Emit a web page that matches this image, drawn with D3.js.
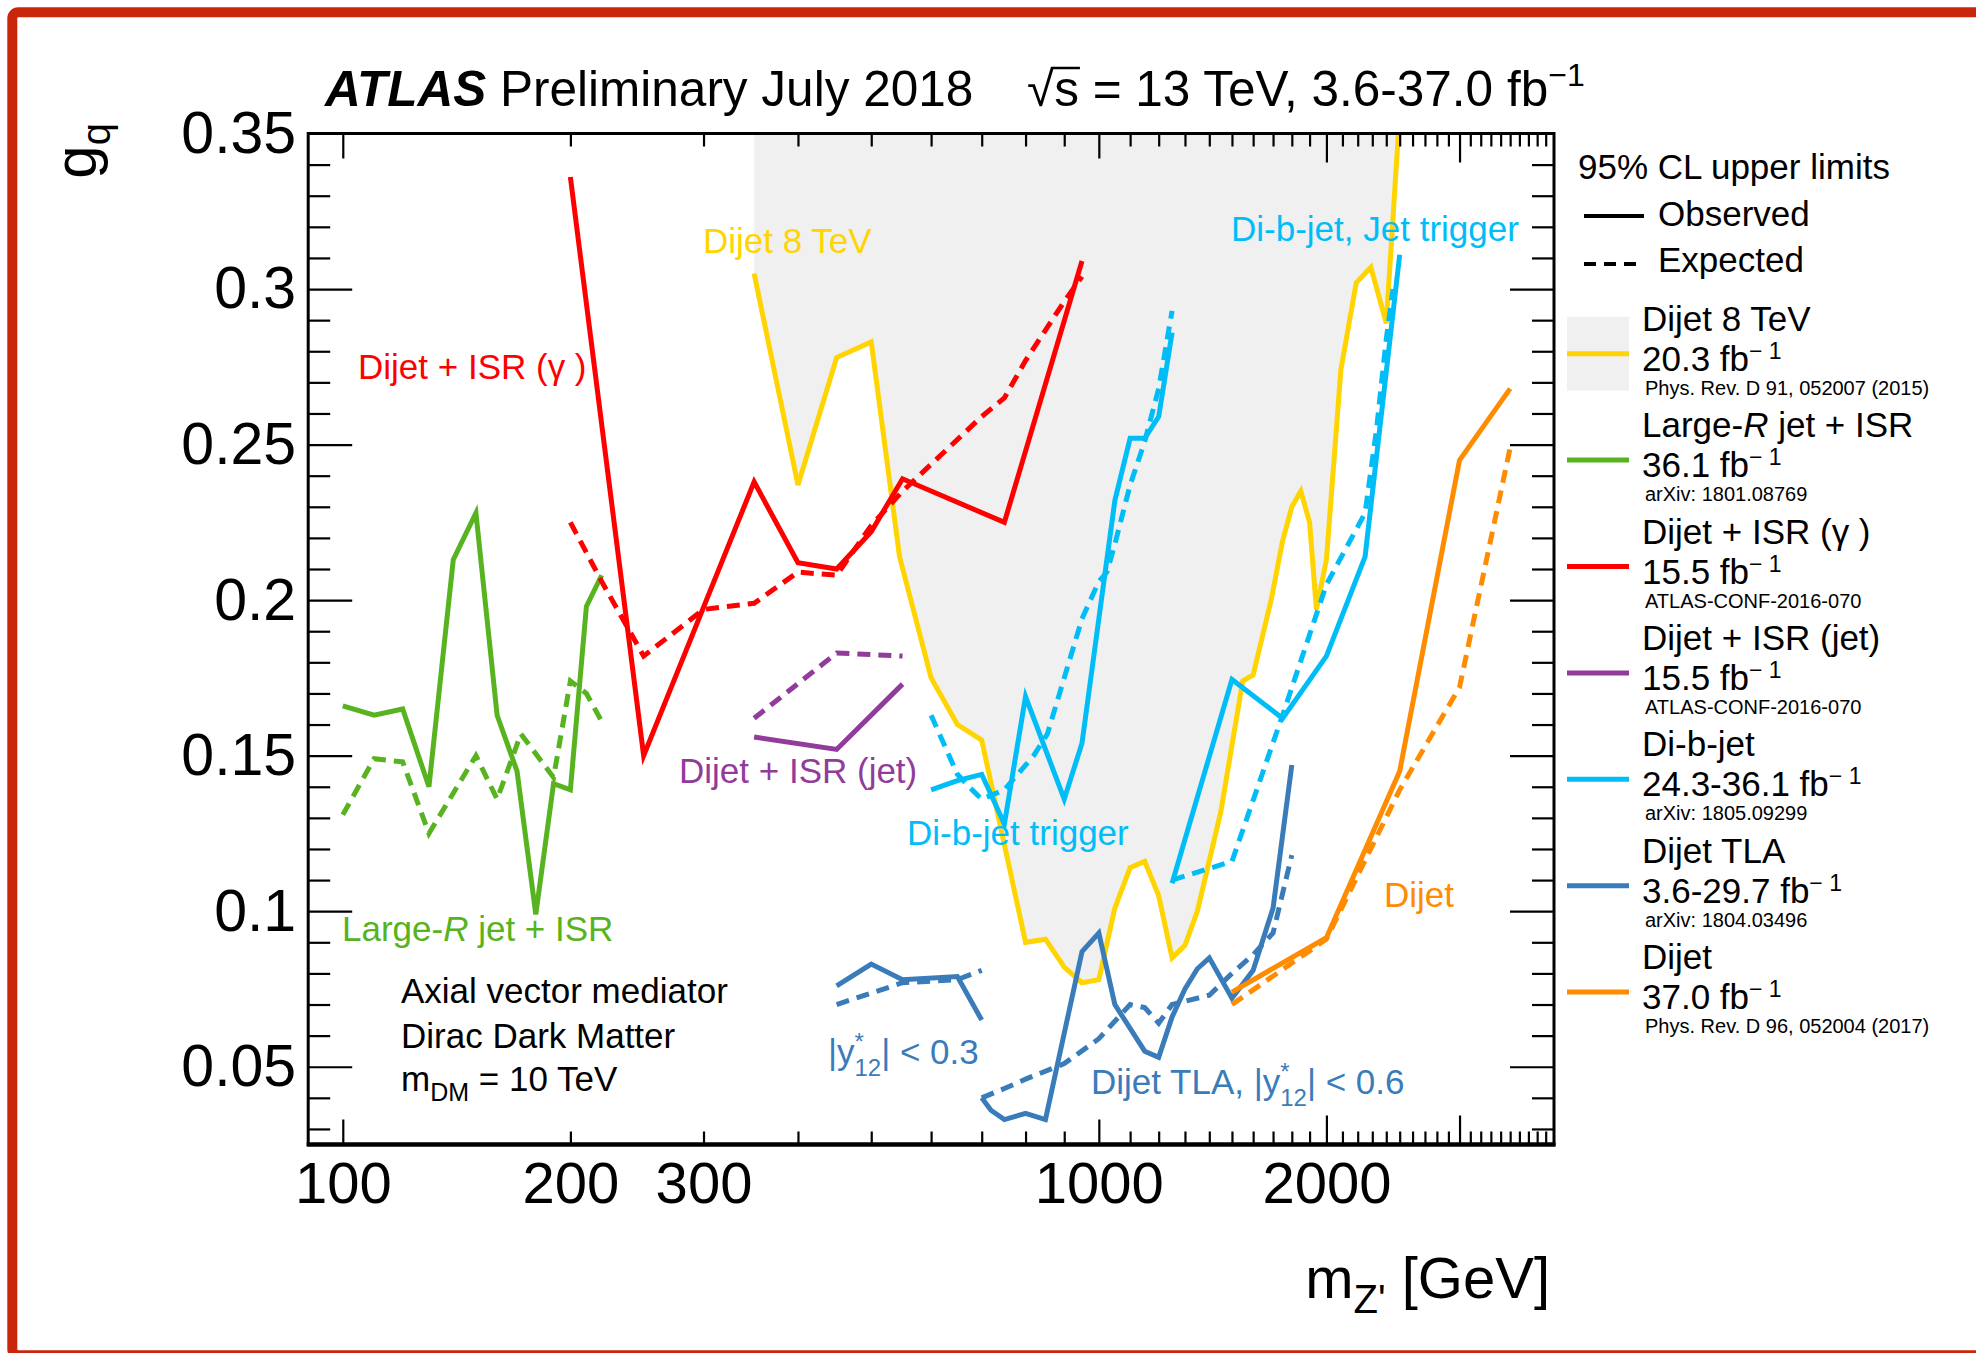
<!DOCTYPE html>
<html>
<head>
<meta charset="utf-8">
<script src="https://cdn.jsdelivr.net/npm/d3@7"></script>
<style>
  html, body { margin: 0; padding: 0; background: #fff; }
  svg { display: block; font-family: "Liberation Sans", Arial, Helvetica, sans-serif; }
  text { white-space: pre; }
</style>
</head>
<body>
<svg id="chart" width="1976" height="1353"></svg>
<script>
// ---------------- Limits on g_q vs m_Z' (axial-vector mediator) ----------------

// Dijet 8 TeV (observed only; the excluded region above it is shaded)
const dijet8Mass = [350, 400, 450, 500, 545, 600, 650, 700, 800, 850, 900, 950, 1000, 1050, 1100, 1150, 1200, 1250, 1300, 1350, 1450, 1550, 1600, 1690, 1750, 1800, 1850, 1900, 1940, 2000, 2090, 2190, 2290, 2400, 2490];
const dijet8Obs  = [0.305, 0.237, 0.278, 0.283, 0.214, 0.175, 0.160, 0.155, 0.090, 0.091, 0.082, 0.077, 0.078, 0.101, 0.114, 0.116, 0.105, 0.085, 0.089, 0.100, 0.132, 0.174, 0.176, 0.200, 0.219, 0.230, 0.235, 0.225, 0.197, 0.213, 0.274, 0.302, 0.307, 0.289, 0.350];

// Large-R jet + ISR
const largeRMass   = [100, 110, 120, 130, 140, 150, 160, 170, 180, 190, 200, 210, 220];
const largeRObs    = [0.166, 0.163, 0.165, 0.140, 0.213, 0.228, 0.163, 0.145, 0.099, 0.141, 0.139, 0.198, 0.208];
const largeRExpMass = [100, 110, 120, 130, 150, 160, 172, 190, 200, 210, 220];
const largeRExp    = [0.131, 0.149, 0.148, 0.125, 0.150, 0.136, 0.157, 0.143, 0.174, 0.170, 0.161];

// Dijet + ISR (photon)
const isrGammaMass    = [200, 250, 350, 400, 450, 500, 550, 750, 950];
const isrGammaObs     = [0.336, 0.150, 0.238, 0.212, 0.210, 0.222, 0.239, 0.225, 0.309];
const isrGammaExpMass = [200, 220, 250, 300, 350, 400, 450, 500, 550, 700, 750, 800, 900, 950];
const isrGammaExp     = [0.225, 0.206, 0.182, 0.197, 0.199, 0.209, 0.208, 0.224, 0.235, 0.259, 0.265, 0.277, 0.296, 0.304];

// Dijet + ISR (jet)
const isrJetMass = [350, 450, 550];
const isrJetObs  = [0.156, 0.152, 0.173];
const isrJetExp  = [0.162, 0.183, 0.182];

// Di-b-jet, b-jet trigger
const dibjetLowMass    = [600, 650, 700, 750, 800, 900, 950, 1050, 1100, 1150, 1200, 1250];
const dibjetLowObs     = [0.139, 0.142, 0.144, 0.128, 0.169, 0.136, 0.154, 0.232, 0.252, 0.252, 0.259, 0.286];
const dibjetLowExpMass = [600, 650, 680, 700, 750, 820, 855, 900, 950, 1000, 1025, 1050, 1100, 1150, 1200, 1250];
const dibjetLowExp     = [0.163, 0.144, 0.139, 0.136, 0.139, 0.150, 0.157, 0.175, 0.194, 0.206, 0.209, 0.218, 0.237, 0.251, 0.268, 0.293];

// Di-b-jet, jet trigger
const dibjetHighMass    = [1250, 1500, 1750, 2000, 2250, 2500];
const dibjetHighObs     = [0.109, 0.1745, 0.162, 0.182, 0.214, 0.311];
const dibjetHighExpMass = [1250, 1500, 1750, 2000, 2250, 2330, 2400, 2450];
const dibjetHighExp     = [0.110, 0.116, 0.163, 0.205, 0.228, 0.255, 0.284, 0.300];

// Dijet TLA, |y*12| < 0.3
const tlaLowMass    = [450, 500, 550, 650, 700];
const tlaLowObs     = [0.076, 0.083, 0.078, 0.079, 0.065];
const tlaLowExpMass = [450, 550, 650, 700];
const tlaLowExp     = [0.070, 0.077, 0.078, 0.081];

// Dijet TLA, |y*12| < 0.6
const tlaHighMass    = [700, 720, 750, 800, 850, 950, 1000, 1050, 1150, 1200, 1250, 1300, 1350, 1400, 1500, 1600, 1700, 1800];
const tlaHighObs     = [0.040, 0.036, 0.033, 0.035, 0.033, 0.087, 0.093, 0.070, 0.055, 0.053, 0.066, 0.075, 0.0815, 0.085, 0.072, 0.081, 0.101, 0.147];
const tlaHighExpMass = [700, 750, 800, 900, 1000, 1100, 1150, 1200, 1250, 1400, 1500, 1600, 1700, 1800];
const tlaHighExp     = [0.040, 0.043, 0.046, 0.051, 0.059, 0.070, 0.069, 0.064, 0.070, 0.073, 0.080, 0.086, 0.093, 0.118];

// Dijet 37.0 fb-1
const dijetMass = [1500, 2000, 2500, 3000, 3500];
const dijetObs  = [0.074, 0.0915, 0.145, 0.245, 0.268];
const dijetExp  = [0.070, 0.091, 0.139, 0.172, 0.249];

// Axis tick labels
const xTickLabels = [100, 200, 300, 1000, 2000];
const yTickLabels = [0.05, 0.1, 0.15, 0.2, 0.25, 0.3, 0.35];

// ---------------- styles ----------------
const C = {
  gold: '#ffd400', green: '#57b320', red: '#ff0000', purple: '#913c9b',
  sky: '#00bdf7', steel: '#3a7cba', orange: '#ff8c00', shade: '#f0f0f0'
};
const FONT_LABEL = 35;
const LINE_W = 5;
const DASH = '13,8';

const plot = { left: 308.2, right: 1554, top: 133.5, bottom: 1144.5 };
const x = d3.scaleLog().domain([90, 4000]).range([plot.left, plot.right]);
const y = d3.scaleLinear().domain([0.025, 0.35]).range([plot.bottom, plot.top]);

const svg = d3.select('#chart');

// page border
svg.append('rect')
  .attr('x', 12.3).attr('y', 12.3).attr('width', 2100).attr('height', 1343)
  .attr('rx', 6).attr('fill', 'none').attr('stroke', '#c9260c').attr('stroke-width', 10);

svg.append('clipPath').attr('id', 'plotClip').append('rect')
  .attr('x', plot.left).attr('y', plot.top)
  .attr('width', plot.right - plot.left).attr('height', plot.bottom - plot.top);

// text helper: parts are strings or {t, size, dx, dy, italic, bold}
function addText(parent, px, py, parts, opt = {}) {
  const size = opt.size || FONT_LABEL;
  const t = parent.append('text')
    .attr('transform', `translate(${px},${py})` + (opt.rotate ? ` rotate(${opt.rotate})` : ''))
    .attr('font-size', size)
    .attr('fill', opt.color || '#000')
    .attr('text-anchor', opt.anchor || 'start');
  parts.forEach(p => {
    if (typeof p === 'string') p = { t: p };
    const s = t.append('tspan').text(p.t);
    if (p.size) s.attr('font-size', p.size);
    if (p.dx) s.attr('dx', p.dx);
    if (p.dy) s.attr('dy', p.dy);
    if (p.italic) s.attr('font-style', 'italic');
    if (p.bold) s.attr('font-weight', 'bold');
  });
  return t;
}

// ---------------- shaded Dijet 8 TeV exclusion ----------------
const plotG = svg.append('g').attr('clip-path', 'url(#plotClip)');
plotG.append('path')
  .datum(d3.zip(dijet8Mass, dijet8Obs))
  .attr('fill', C.shade)
  .attr('d', d3.area().x(d => x(d[0])).y0(y(0.35)).y1(d => y(d[1])));

// ---------------- in-plot labels ----------------
const labels = svg.append('g');
addText(labels, 703, 253, ['Dijet 8 TeV'], { color: C.gold });
addText(labels, 358, 379, ['Dijet + ISR (\u03b3 )'], { color: C.red });
addText(labels, 342, 941, ['Large-', { t: 'R', italic: true }, ' jet + ISR'], { color: C.green });
addText(labels, 679, 783, ['Dijet + ISR (jet)'], { color: C.purple });
addText(labels, 907, 845, ['Di-b-jet trigger'], { color: C.sky });
addText(labels, 1231, 241, ['Di-b-jet, Jet trigger'], { color: C.sky });
addText(labels, 1384, 907, ['Dijet'], { color: C.orange });
const ystar = (cut) => ['|y', { t: '*', size: 24, dy: -14 }, { t: '12', size: 24, dx: -9.5, dy: 26 }, { t: '| < ' + cut, dy: -12 }];
addText(labels, 828, 1064, ystar('0.3'), { color: C.steel });
addText(labels, 1091, 1094, ['Dijet TLA, '].concat(ystar('0.6')), { color: C.steel });
addText(labels, 401, 1003, ['Axial vector mediator']);
addText(labels, 401, 1048, ['Dirac Dark Matter']);
addText(labels, 401, 1091, ['m', { t: 'DM', size: 25, dy: 10 }, { t: ' = 10 TeV', dy: -10 }]);

// ---------------- limit curves ----------------
const line = d3.line().x(d => x(d[0])).y(d => y(d[1]));
function curve(mass, g, color, dashed) {
  plotG.append('path')
    .datum(d3.zip(mass, g))
    .attr('d', line)
    .attr('fill', 'none')
    .attr('stroke', color)
    .attr('stroke-width', LINE_W)
    .attr('stroke-linejoin', 'miter')
    .attr('stroke-dasharray', dashed ? DASH : null);
}
curve(dijet8Mass, dijet8Obs, C.gold, false);
curve(largeRExpMass, largeRExp, C.green, true);
curve(largeRMass, largeRObs, C.green, false);
curve(isrGammaExpMass, isrGammaExp, C.red, true);
curve(isrGammaMass, isrGammaObs, C.red, false);
curve(isrJetMass, isrJetExp, C.purple, true);
curve(isrJetMass, isrJetObs, C.purple, false);
curve(dibjetLowExpMass, dibjetLowExp, C.sky, true);
curve(dibjetLowMass, dibjetLowObs, C.sky, false);
curve(dibjetHighExpMass, dibjetHighExp, C.sky, true);
curve(dibjetHighMass, dibjetHighObs, C.sky, false);
curve(tlaLowExpMass, tlaLowExp, C.steel, true);
curve(tlaLowMass, tlaLowObs, C.steel, false);
curve(tlaHighExpMass, tlaHighExp, C.steel, true);
curve(tlaHighMass, tlaHighObs, C.steel, false);
curve(dijetMass, dijetExp, C.orange, true);
curve(dijetMass, dijetObs, C.orange, false);

// ---------------- axes, ticks and frame ----------------
const xAll = d3.range(100, 1001, 100).concat(d3.range(1100, 4000, 100));
const xLongA = [100, 1000];
const xLongB = [2000, 3000];
const xShort = xAll.filter(v => !xLongA.includes(v) && !xLongB.includes(v));
const yAll = d3.range(3, 35).map(i => i / 100);
const yMajor = [0.05, 0.1, 0.15, 0.2, 0.25, 0.3];
const yMinor = yAll.filter(v => !yMajor.some(m => Math.abs(m - v) < 1e-9));

function styleTicks(g) {
  g.select('.domain').remove();
  g.selectAll('line').attr('stroke', '#000').attr('stroke-width', 2.2);
}
function xTickSet(vals, len) {
  svg.append('g').attr('transform', `translate(0,${plot.bottom})`)
    .call(d3.axisTop(x).tickValues(vals).tickSize(len).tickFormat('')).call(styleTicks);
  svg.append('g').attr('transform', `translate(0,${plot.top})`)
    .call(d3.axisBottom(x).tickValues(vals).tickSize(len).tickFormat('')).call(styleTicks);
}
xTickSet(xShort, 13);
xTickSet(xLongA, 25);
xTickSet(xLongB, 29);

function yTickSet(vals, len) {
  svg.append('g').attr('transform', `translate(${plot.left},0)`)
    .call(d3.axisRight(y).tickValues(vals).tickSize(len).tickFormat('')).call(styleTicks);
  svg.append('g').attr('transform', `translate(${plot.right},0)`)
    .call(d3.axisLeft(y).tickValues(vals).tickSize(len).tickFormat('')).call(styleTicks);
}
yTickSet(yMinor, 22);
yTickSet(yMajor, 44);

// frame
svg.append('rect')
  .attr('x', plot.left).attr('y', plot.top)
  .attr('width', plot.right - plot.left).attr('height', plot.bottom - plot.top)
  .attr('fill', 'none').attr('stroke', '#000').attr('stroke-width', 3);
svg.append('line')
  .attr('x1', plot.left - 1.5).attr('x2', plot.right + 1.5)
  .attr('y1', plot.bottom).attr('y2', plot.bottom)
  .attr('stroke', '#000').attr('stroke-width', 4.5);

// tick labels
const xLab = svg.append('g').attr('transform', `translate(0,${plot.bottom})`)
  .call(d3.axisBottom(x).tickValues(xTickLabels).tickSize(0).tickPadding(17).tickFormat(d => String(d)));
xLab.select('.domain').remove();
xLab.selectAll('text').attr('font-size', 58).attr('fill', '#000').attr('font-family', null);

const yLab = svg.append('g').attr('transform', `translate(${plot.left},0)`)
  .call(d3.axisLeft(y).tickValues(yTickLabels).tickSize(0).tickPadding(12).tickFormat(d => String(+d.toFixed(2))));
yLab.select('.domain').remove();
yLab.selectAll('text').attr('font-size', 59).attr('fill', '#000').attr('font-family', null);

// axis titles
addText(svg, 1550, 1298, ['m', { t: "Z'", size: 40, dy: 15 }, { t: ' [GeV]', dy: -15 }], { size: 58, anchor: 'end' });
addText(svg, 96, 123, ['g', { t: 'q', size: 40, dy: 14 }], { size: 60, anchor: 'end', rotate: -90 });

// ---------------- title ----------------
addText(svg, 325, 106, [{ t: 'ATLAS', bold: true, italic: true }, ' Preliminary July 2018'], { size: 49.5 });
const sqrtT = addText(svg, 1027, 106, ['\u221a', 's', ' = 13 TeV, 3.6-37.0 fb', { t: '\u22121', size: 32, dy: -20 }], { size: 49.5 });
{
  const n = sqrtT.node();
  const p = n.getStartPositionOfChar(1);
  const w = n.getSubStringLength(1, 1);
  svg.append('line')
    .attr('x1', 1027 + p.x - 1).attr('x2', 1027 + p.x + w + 1)
    .attr('y1', 106 - 38).attr('y2', 106 - 38)
    .attr('stroke', '#000').attr('stroke-width', 2.5);
}

// ---------------- legend ----------------
const leg = svg.append('g');
addText(leg, 1578, 179, ['95% CL upper limits']);
leg.append('line').attr('x1', 1584).attr('x2', 1644).attr('y1', 216).attr('y2', 216)
  .attr('stroke', '#000').attr('stroke-width', 4);
addText(leg, 1658, 226, ['Observed']);
leg.append('line').attr('x1', 1584).attr('x2', 1636).attr('y1', 264).attr('y2', 264)
  .attr('stroke', '#000').attr('stroke-width', 4).attr('stroke-dasharray', '12,8');
addText(leg, 1658, 272, ['Expected']);

const legendNames = [
  ['Dijet 8 TeV'],
  ['Large-', { t: 'R', italic: true }, ' jet + ISR'],
  ['Dijet + ISR (\u03b3 )'],
  ['Dijet + ISR (jet)'],
  ['Di-b-jet'],
  ['Dijet TLA'],
  ['Dijet']
];
const legendLumi = ['20.3', '36.1', '15.5', '15.5', '24.3-36.1', '3.6-29.7', '37.0'];
const legendRefs = ['Phys. Rev. D 91, 052007 (2015)', 'arXiv: 1801.08769', 'ATLAS-CONF-2016-070',
                    'ATLAS-CONF-2016-070', 'arXiv: 1805.09299', 'arXiv: 1804.03496', 'Phys. Rev. D 96, 052004 (2017)'];
const legendColors = [C.gold, C.green, C.red, C.purple, C.sky, C.steel, C.orange];

legendNames.forEach((nm, i) => {
  const base = 330.7 + i * 106.4;
  if (i === 0) {
    leg.append('rect').attr('x', 1567).attr('y', base - 14).attr('width', 62).attr('height', 74).attr('fill', C.shade);
  }
  leg.append('line').attr('x1', 1567).attr('x2', 1629).attr('y1', base + 23).attr('y2', base + 23)
    .attr('stroke', legendColors[i]).attr('stroke-width', 5);
  addText(leg, 1642, base, nm);
  addText(leg, 1642, base + 40, [legendLumi[i] + ' fb', { t: '\u2212 1', size: 23, dy: -12 }]);
  addText(leg, 1645, base + 64, [legendRefs[i]], { size: 20 });
});
</script>
</body>
</html>
